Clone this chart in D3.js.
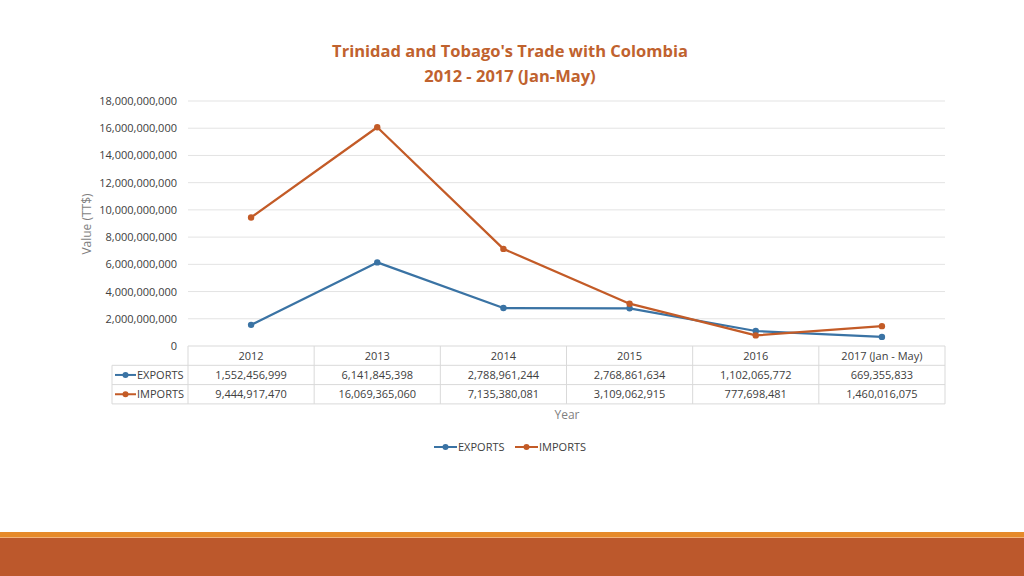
<!DOCTYPE html>
<html><head><meta charset="utf-8">
<script src="https://cdn.jsdelivr.net/npm/d3@7"></script>
<style>body{margin:0;background:#fff;}svg{display:block;font-family:"Open Sans","Noto Sans",sans-serif;}</style>
</head><body>
<svg id="c" width="1024" height="576"></svg>
<script>
const categories = ["2012","2013","2014","2015","2016","2017 (Jan - May)"];
const exportsVals = [1552456999, 6141845398, 2788961244, 2768861634, 1102065772, 669355833];
const importsVals = [9444917470, 16069365060, 7135380081, 3109062915, 777698481, 1460016075];
const seriesNames = ["EXPORTS","IMPORTS"];
const yTicks = [0,2e9,4e9,6e9,8e9,10e9,12e9,14e9,16e9,18e9];

const colors = {EXPORTS:"#3A73A4", IMPORTS:"#C35B27"};
const series = [
  {name:seriesNames[0], values:exportsVals},
  {name:seriesNames[1], values:importsVals}
];

const svg = d3.select("#c");
const L = 188, R = 945, T = 101, B = 346;
const x = d3.scaleBand().domain(categories).range([L,R]);
const y = d3.scaleLinear().domain([0,18e9]).range([B,T]);
const fmt = d3.format(",");

// title
svg.append("text").attr("x",510).attr("y",57).attr("text-anchor","middle")
  .attr("fill","#C0622E").attr("font-size",16.5).attr("font-weight","bold")
  .text("Trinidad and Tobago's Trade with Colombia");
svg.append("text").attr("x",510).attr("y",82).attr("text-anchor","middle")
  .attr("fill","#C0622E").attr("font-size",16.5).attr("font-weight","bold")
  .text("2012 - 2017 (Jan-May)");

// gridlines
svg.append("g").selectAll("line").data(yTicks.filter(d=>d>0)).join("line")
  .attr("x1",L).attr("x2",R).attr("y1",d=>y(d)).attr("y2",d=>y(d))
  .attr("stroke","#E3E3E3").attr("stroke-width",1);

// y axis labels
svg.append("g").selectAll("text").data(yTicks).join("text")
  .attr("x",177).attr("y",d=>y(d)+4).attr("text-anchor","end")
  .attr("font-size",11).attr("fill","#404040")
  .text(d=>fmt(d));

svg.append("text").attr("transform","translate(91,224) rotate(-90)")
  .attr("text-anchor","middle").attr("font-size",12).attr("fill","#7F7F7F")
  .text("Value (TT$)");

// data table
const rowH = 19.3;
const tbl = svg.append("g");
const gridC = "#D9D9D9";
// horizontal lines
[B, B+rowH, B+2*rowH, B+3*rowH].forEach((yy,i)=>{
  tbl.append("line").attr("x1", i===0 ? L : 112).attr("x2",R).attr("y1",yy).attr("y2",yy)
    .attr("stroke",gridC);
});
tbl.append("line").attr("x1",112).attr("x2",112).attr("y1",B+rowH).attr("y2",B+3*rowH).attr("stroke",gridC);
const bounds = categories.map(c=>x(c)).concat([R]);
bounds.forEach(bx=>{
  tbl.append("line").attr("x1",bx).attr("x2",bx).attr("y1",B).attr("y2",B+3*rowH).attr("stroke",gridC);
});
tbl.selectAll("text.h").data(categories).join("text").attr("class","h")
  .attr("x",d=>x(d)+x.bandwidth()/2).attr("y",B+rowH/2+4).attr("text-anchor","middle")
  .attr("font-size",11).attr("fill","#404040").text(d=>d);
series.forEach((s,i)=>{
  const ry = B+rowH*(i+1);
  tbl.selectAll("text.r"+i).data(s.values).join("text").attr("class","r"+i)
    .attr("x",(d,j)=>x(categories[j])+x.bandwidth()/2).attr("y",ry+rowH/2+4)
    .attr("text-anchor","middle").attr("font-size",11).attr("fill","#404040").text(d=>fmt(d));
  tbl.append("line").attr("x1",115).attr("x2",136).attr("y1",ry+rowH/2).attr("y2",ry+rowH/2)
    .attr("stroke",colors[s.name]).attr("stroke-width",2);
  tbl.append("circle").attr("cx",125.5).attr("cy",ry+rowH/2).attr("r",3).attr("fill",colors[s.name]);
  tbl.append("text").attr("x",137).attr("y",ry+rowH/2+4).attr("font-size",11).attr("fill","#404040").text(s.name);
});

svg.append("text").attr("x",567).attr("y",419).attr("text-anchor","middle")
  .attr("font-size",12).attr("fill","#7F7F7F").text("Year");

// lines
const line = d3.line().x((d,i)=>x(categories[i])+x.bandwidth()/2).y(d=>y(d));
series.forEach(s=>{
  svg.append("path").datum(s.values).attr("d",line).attr("fill","none")
    .attr("stroke",colors[s.name]).attr("stroke-width",2.25).attr("stroke-linejoin","round");
  svg.append("g").selectAll("circle").data(s.values).join("circle")
    .attr("cx",(d,i)=>x(categories[i])+x.bandwidth()/2).attr("cy",d=>y(d)).attr("r",3.2)
    .attr("fill",colors[s.name]);
});

// legend
const legX = [434, 515];
series.forEach((s,i)=>{
  const lx = legX[i], ly = 447;
  svg.append("line").attr("x1",lx).attr("x2",lx+23).attr("y1",ly).attr("y2",ly)
    .attr("stroke",colors[s.name]).attr("stroke-width",2);
  svg.append("circle").attr("cx",lx+11.5).attr("cy",ly).attr("r",3).attr("fill",colors[s.name]);
  svg.append("text").attr("x",lx+24).attr("y",ly+4).attr("font-size",11).attr("fill","#404040").text(s.name);
});

// footer bars
svg.append("rect").attr("x",0).attr("y",532).attr("width",1024).attr("height",5).attr("fill","#E68A2A");
svg.append("rect").attr("x",0).attr("y",537).attr("width",1024).attr("height",1).attr("fill","#F2B27A");
svg.append("rect").attr("x",0).attr("y",538).attr("width",1024).attr("height",38).attr("fill","#BC582C");
</script>
</body></html>
